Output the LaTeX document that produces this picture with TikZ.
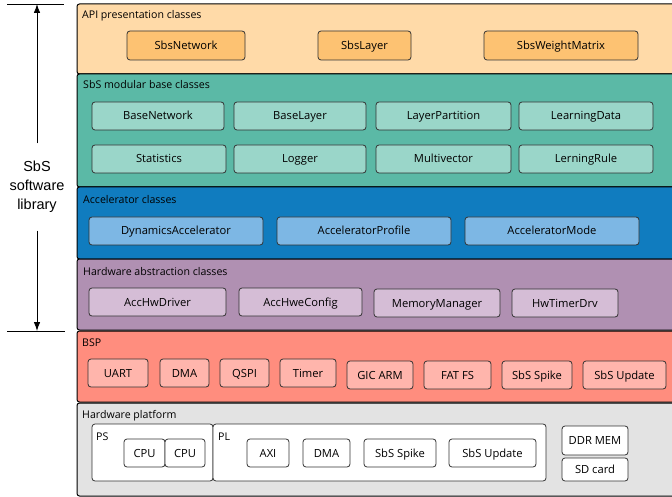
\documentclass[tikz,border=0pt]{standalone}
\usepackage{fontspec}
\setmainfont{Open Sans}
\newfontfamily\arialfont{Liberation Sans}
\usetikzlibrary{arrows.meta}

\definecolor{apibg}{HTML}{FFDAA8}
\definecolor{apibox}{HTML}{FDC272}
\definecolor{modbg}{HTML}{5BB9A6}
\definecolor{modbox}{HTML}{9AD6C9}
\definecolor{accbg}{HTML}{107CBF}
\definecolor{accbox}{HTML}{7DB7E4}
\definecolor{habg}{HTML}{B090B2}
\definecolor{habox}{HTML}{D5BDD6}
\definecolor{bspbg}{HTML}{FF8D7E}
\definecolor{bspbox}{HTML}{FFB5AC}
\definecolor{hwbg}{HTML}{E3E3E3}
\definecolor{edge}{HTML}{333333}

\tikzset{
  layer/.style={draw=black, line width=1pt, rounded corners=2.5pt},
  layertitle/.style={anchor=base west, inner sep=0pt, font=\fontsize{10.6}{12}\selectfont},
  item/.style={draw=edge, line width=0.8pt, rounded corners=3pt, inner sep=0pt,
    text height=8pt, text depth=0pt, font=\fontsize{11.2}{12}\selectfont},
  apiitem/.style={item, fill=apibox},
  moditem/.style={item, fill=modbox},
  accitem/.style={item, fill=accbox},
  haitem/.style={item, fill=habox},
  bspitem/.style={item, fill=bspbox},
  hwitem/.style={item, fill=white},
  sidearrow/.style={-{Latex[length=9pt,width=6.5pt]}, line width=0.8pt},
}

% box by corners: name, x1, y1, x2, y2, text, style
\newcommand\bx[7]{%
  \node[#7, minimum width={(#4-#2)*1pt}, minimum height={(#5-#3)*1pt}]
    (#1) at ({(#2+#4)/2},{(#3+#5)/2}) {#6};}

\begin{document}
\begin{tikzpicture}[x=1pt, y=-1pt]
\useasboundingbox (0,0) rectangle (672,497);

% ---- layers ----
\draw[layer, fill=apibg] (77,4) rectangle (690,74);
\draw[layer, fill=modbg] (77,74) rectangle (690,187);
\draw[layer, fill=accbg] (77,187) rectangle (690,259);
\draw[layer, fill=habg]  (77,259) rectangle (690,330);
\draw[layer, fill=bspbg] (77,331) rectangle (690,402);
\draw[layer, fill=hwbg]  (77,403) rectangle (690,496);

\node[layertitle] (tapi) at (82,19) {API presentation classes};
\node[layertitle] (tmod) at (83,89) {SbS modular base classes};
\node[layertitle] (tacc) at (83,203.5) {Accelerator classes};
\node[layertitle] (tha)  at (83,275.5) {Hardware abstraction classes};
\node[layertitle] (tbsp) at (82,346.5) {BSP};
\node[layertitle] (thw)  at (82,418.5) {Hardware platform};

% ---- API presentation ----
\bx{sbsnet}{127}{31}{245}{60}{SbsNetwork}{apiitem}
\bx{sbslay}{318}{31}{411}{60}{SbsLayer}{apiitem}
\bx{sbswm}{484}{31}{638}{60}{SbsWeightMatrix}{apiitem}

% ---- modular base ----
\bx{basenet}{92}{102}{224}{130}{BaseNetwork}{moditem}
\bx{baselay}{234}{102}{366}{130}{BaseLayer}{moditem}
\bx{laypart}{376}{102}{511}{130}{LayerPartition}{moditem}
\bx{learnd}{519}{102}{653}{130}{LearningData}{moditem}
\bx{stats}{92}{145}{226}{173}{Statistics}{moditem}
\bx{logger}{234}{145}{366}{173}{Logger}{moditem}
\bx{multiv}{376}{145}{511}{173}{Multivector}{moditem}
\bx{lrule}{519}{145}{653}{173}{LerningRule}{moditem}

% ---- accelerator ----
\bx{dynacc}{89}{217}{263}{245}{DynamicsAccelerator}{accitem}
\bx{accprof}{277}{217}{451}{245}{AcceleratorProfile}{accitem}
\bx{accmode}{465}{217}{639}{245}{AcceleratorMode}{accitem}

% ---- hardware abstraction ----
\bx{hwdrv}{89}{288}{226}{316}{AccHwDriver}{haitem}
\bx{hwcfg}{239}{288}{362}{316}{AccHweConfig}{haitem}
\bx{memmgr}{374}{289}{500}{317}{MemoryManager}{haitem}
\bx{hwtimer}{512}{289}{618}{317}{HwTimerDrv}{haitem}

% ---- BSP ----
\bx{uart}{88}{359}{148}{387}{UART}{bspitem}
\bx{bdma}{160}{359}{209}{387}{DMA}{bspitem}
\bx{qspi}{220}{359}{269}{387}{QSPI}{bspitem}
\bx{timer}{280}{359}{336}{387}{Timer}{bspitem}
\bx{gic}{347}{361}{413}{389}{GIC ARM}{bspitem}
\bx{fatfs}{424}{361}{491}{389}{FAT FS}{bspitem}
\bx{bspike}{502}{361}{572}{389}{SbS Spike}{bspitem}
\bx{bupd}{583}{361}{666}{389}{SbS Update}{bspitem}

% ---- hardware platform ----
\bx{ps}{92}{424}{213}{481}{}{hwitem}
\bx{pl}{213}{424}{546}{481}{}{hwitem}
\node[layertitle] (tps) at (96,440) {PS};
\node[layertitle] (tpl) at (218,440) {PL};
\bx{cpua}{124}{439}{165}{467}{CPU}{hwitem}
\bx{cpub}{165}{439}{205}{467}{CPU}{hwitem}
\bx{axi}{247}{439}{289}{467}{AXI}{hwitem}
\bx{hdma}{303}{439}{350}{467}{DMA}{hwitem}
\bx{hspike}{364}{439}{436}{467}{SbS Spike}{hwitem}
\bx{hupd}{449}{439}{536}{467}{SbS Update}{hwitem}
\bx{ddr}{562}{426}{628}{455}{DDR MEM}{hwitem}
\bx{sdcard}{562}{458}{628}{481}{SD card}{hwitem}

% ---- side marker for the software library span ----
\coordinate (libtop) at (37,4);
\coordinate (libbot) at (37,331);
\draw[line width=0.8pt] (7,4) -- (64,4);
\draw[line width=0.8pt] (7,331) -- (65,331);
\node[align=center, inner sep=0pt, minimum height=87pt,
      font=\arialfont\fontsize{14.5}{19}\selectfont] (lib) at (37,187)
  {SbS\\software\\library};
\draw[sidearrow] (lib.north) -- (libtop);
\draw[sidearrow] (lib.south) -- (libbot);
\end{tikzpicture}
\end{document}
